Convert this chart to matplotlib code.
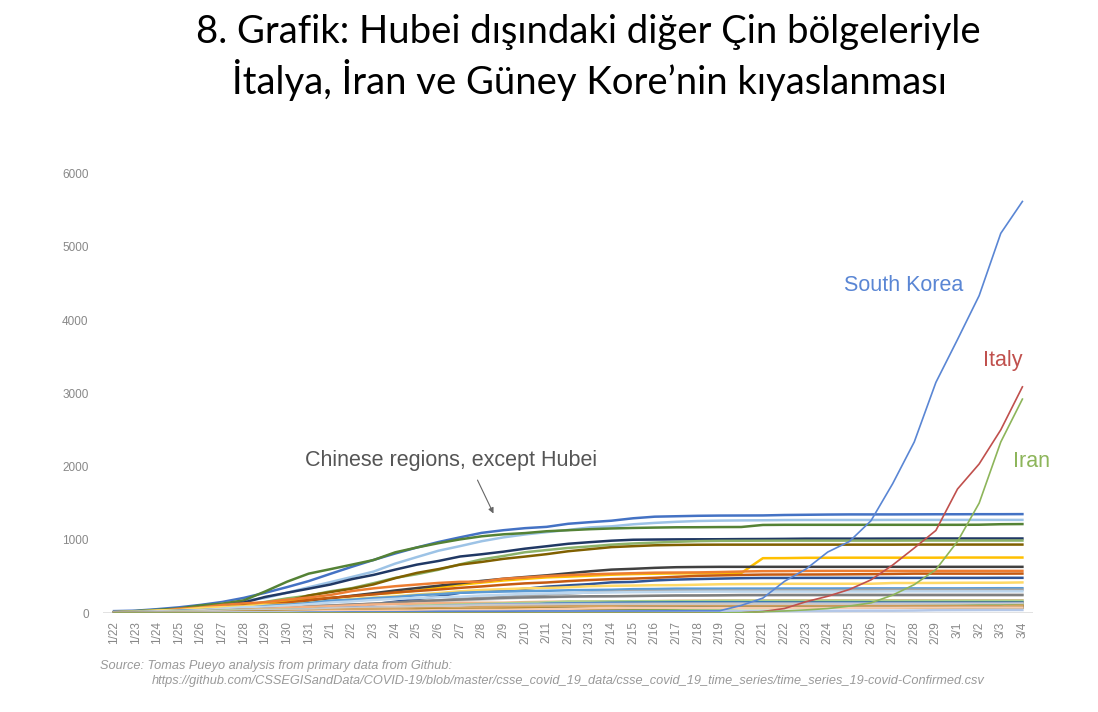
import numpy as np
import matplotlib.pyplot as plt

# dates on the x axis
dates = ['1/22', '1/23', '1/24', '1/25', '1/26', '1/27', '1/28', '1/29', '1/30', '1/31',
         '2/1', '2/2', '2/3', '2/4', '2/5', '2/6', '2/7', '2/8', '2/9', '2/10',
         '2/11', '2/12', '2/13', '2/14', '2/15', '2/16', '2/17', '2/18', '2/19', '2/20',
         '2/21', '2/22', '2/23', '2/24', '2/25', '2/26', '2/27', '2/28', '2/29', '3/1',
         '3/2', '3/3', '3/4']

# countries
south_korea = [1, 1, 2, 2, 3, 4, 4, 4, 4, 11,
               12, 15, 15, 16, 19, 23, 24, 24, 25, 27,
               28, 28, 28, 28, 28, 29, 30, 31, 31, 104,
               204, 433, 602, 833, 977, 1261, 1766, 2337, 3150, 3736,
               4335, 5186, 5621]
italy = [0, 0, 0, 0, 0, 0, 0, 0, 0, 2,
         2, 2, 2, 2, 2, 2, 3, 3, 3, 3,
         3, 3, 3, 3, 3, 3, 3, 3, 3, 3,
         20, 62, 155, 229, 322, 453, 655, 888, 1128, 1694,
         2036, 2502, 3089]
iran = [0, 0, 0, 0, 0, 0, 0, 0, 0, 0,
        0, 0, 0, 0, 0, 0, 0, 0, 0, 0,
        0, 0, 0, 0, 0, 0, 0, 0, 2, 5,
        18, 28, 43, 61, 95, 139, 245, 388, 593, 978,
        1501, 2336, 2922]

# Chinese regions (except Hubei)
guangdong = [26, 32, 53, 78, 111, 151, 207, 277, 354, 436,
             535, 632, 725, 813, 895, 970, 1034, 1095, 1131, 1159,
             1177, 1219, 1241, 1261, 1294, 1316, 1322, 1328, 1331, 1332,
             1333, 1339, 1342, 1345, 1347, 1347, 1347, 1348, 1349, 1349,
             1350, 1350, 1351]
henan = [5, 5, 9, 32, 83, 128, 168, 206, 278, 352,
         422, 493, 566, 675, 764, 851, 914, 981, 1033, 1073,
         1105, 1135, 1169, 1184, 1212, 1231, 1246, 1257, 1262, 1265,
         1267, 1270, 1271, 1271, 1271, 1271, 1272, 1272, 1272, 1272,
         1272, 1272, 1272]
zhejiang = [10, 27, 43, 62, 104, 128, 173, 296, 428, 538,
            599, 661, 724, 829, 895, 954, 1006, 1048, 1075, 1092,
            1117, 1131, 1145, 1155, 1162, 1167, 1171, 1172, 1174, 1175,
            1203, 1205, 1205, 1205, 1205, 1205, 1205, 1205, 1205, 1205,
            1206, 1213, 1215]
hunan = [4, 9, 24, 43, 69, 100, 143, 221, 277, 332,
         389, 463, 521, 593, 661, 711, 772, 803, 838, 879,
         912, 946, 968, 988, 1001, 1004, 1006, 1007, 1008, 1010,
         1011, 1013, 1016, 1016, 1016, 1016, 1017, 1017, 1018, 1018,
         1018, 1018, 1018]
anhui = [1, 9, 15, 39, 60, 70, 106, 152, 200, 237,
         297, 340, 408, 480, 530, 591, 665, 733, 779, 830,
         860, 889, 910, 934, 950, 962, 973, 982, 986, 987,
         988, 989, 989, 989, 989, 989, 989, 990, 990, 990,
         990, 990, 990]
jiangxi = [2, 7, 18, 18, 36, 72, 109, 109, 162, 240,
           286, 333, 391, 476, 548, 600, 661, 698, 740, 771,
           804, 844, 872, 900, 913, 925, 930, 933, 934, 934,
           934, 934, 934, 934, 934, 934, 934, 935, 935, 935,
           935, 935, 935]
shandong = [2, 6, 15, 27, 46, 75, 95, 130, 158, 184,
            206, 230, 259, 275, 307, 347, 386, 416, 444, 466,
            487, 497, 509, 523, 532, 537, 541, 543, 544, 546,
            749, 750, 754, 755, 756, 756, 756, 756, 756, 758,
            758, 758, 758]
jiangsu = [1, 5, 9, 18, 33, 47, 70, 99, 129, 168,
           202, 236, 271, 308, 341, 373, 408, 439, 468, 492,
           515, 543, 570, 593, 604, 617, 626, 629, 631, 631,
           631, 631, 631, 631, 631, 631, 631, 631, 631, 631,
           631, 631, 631]
chongqing = [6, 9, 27, 57, 75, 110, 132, 147, 182, 211,
             247, 300, 337, 366, 389, 411, 426, 428, 468, 486,
             505, 518, 529, 537, 544, 551, 553, 555, 560, 567,
             572, 573, 575, 576, 576, 576, 576, 576, 576, 576,
             576, 576, 576]
sichuan = [5, 8, 15, 28, 44, 69, 90, 108, 142, 177,
           207, 231, 254, 282, 301, 321, 344, 363, 386, 405,
           417, 436, 451, 463, 470, 481, 495, 508, 514, 520,
           525, 526, 526, 527, 529, 531, 534, 538, 538, 538,
           538, 538, 539]
heilongjiang = [0, 2, 4, 9, 15, 21, 33, 38, 44, 59,
                80, 95, 121, 155, 190, 227, 277, 295, 307, 331,
                360, 378, 395, 419, 425, 445, 457, 464, 470, 476,
                479, 479, 480, 480, 480, 480, 480, 480, 480, 480,
                480, 481, 481]
beijing = [14, 22, 36, 41, 68, 80, 91, 111, 114, 139,
           168, 191, 212, 228, 253, 274, 297, 315, 326, 337,
           342, 352, 366, 372, 375, 380, 381, 387, 393, 395,
           396, 399, 399, 399, 400, 400, 410, 410, 411, 413,
           414, 414, 418]
shanghai = [9, 16, 20, 33, 40, 53, 66, 96, 112, 135,
            169, 182, 203, 219, 243, 257, 277, 286, 293, 299,
            303, 311, 315, 318, 326, 328, 333, 333, 333, 334,
            334, 335, 335, 335, 336, 337, 337, 337, 337, 337,
            338, 339, 339]
hebei = [1, 1, 8, 13, 18, 33, 48, 65, 82, 96,
         104, 113, 126, 135, 157, 172, 195, 206, 218, 239,
         251, 265, 283, 291, 300, 301, 306, 306, 307, 308,
         309, 311, 311, 311, 312, 317, 318, 318, 318, 318,
         318, 318, 318]
fujian = [1, 5, 10, 18, 35, 59, 80, 84, 101, 120,
          144, 159, 179, 194, 205, 215, 224, 239, 250, 261,
          267, 272, 279, 281, 285, 287, 290, 292, 293, 293,
          293, 293, 293, 293, 294, 294, 296, 296, 296, 296,
          296, 296, 296]
guangxi = [2, 5, 23, 23, 36, 46, 51, 58, 78, 87,
           100, 111, 127, 139, 150, 168, 172, 183, 195, 210,
           215, 222, 222, 226, 235, 237, 238, 242, 244, 245,
           246, 249, 249, 251, 252, 252, 252, 252, 252, 252,
           252, 252, 252]
shaanxi = [0, 3, 5, 15, 22, 35, 46, 56, 63, 87,
           101, 116, 128, 142, 165, 173, 184, 195, 208, 213,
           219, 225, 229, 230, 232, 236, 240, 240, 242, 245,
           245, 245, 245, 245, 245, 245, 245, 245, 245, 245,
           245, 245, 245]
yunnan = [1, 2, 5, 11, 16, 26, 44, 55, 70, 83,
          93, 105, 117, 122, 128, 135, 138, 140, 141, 149,
          154, 155, 157, 158, 160, 163, 167, 169, 171, 172,
          172, 174, 174, 174, 174, 174, 174, 174, 174, 174,
          174, 174, 174]
hainan = [4, 5, 8, 19, 22, 33, 40, 43, 46, 52,
          62, 64, 72, 80, 99, 106, 117, 124, 131, 138,
          144, 157, 157, 159, 162, 162, 163, 163, 168, 168,
          168, 168, 168, 168, 168, 168, 168, 168, 168, 168,
          168, 168, 168]
guizhou = [1, 3, 3, 4, 5, 7, 9, 9, 12, 29,
           29, 38, 46, 58, 64, 71, 81, 89, 99, 109,
           127, 133, 135, 140, 143, 144, 146, 146, 146, 146,
           146, 146, 146, 146, 146, 146, 146, 146, 146, 146,
           146, 146, 146]
tianjin = [4, 4, 8, 10, 14, 23, 24, 27, 31, 32,
           41, 48, 60, 67, 69, 79, 81, 88, 91, 95,
           106, 112, 119, 120, 122, 124, 125, 128, 130, 131,
           133, 135, 135, 135, 135, 135, 136, 136, 136, 136,
           136, 136, 136]
shanxi = [1, 1, 1, 6, 9, 13, 27, 35, 39, 47,
          66, 74, 81, 81, 90, 96, 104, 115, 119, 122,
          124, 126, 126, 127, 128, 129, 130, 131, 131, 132,
          132, 132, 132, 133, 133, 133, 133, 133, 133, 133,
          133, 133, 133]
liaoning = [2, 3, 4, 17, 21, 27, 34, 39, 41, 48,
            64, 70, 74, 81, 89, 94, 99, 105, 107, 108,
            111, 116, 117, 119, 119, 121, 121, 121, 121, 121,
            121, 121, 121, 121, 121, 121, 121, 121, 121, 121,
            122, 122, 125]
hong_kong = [0, 2, 2, 5, 8, 8, 8, 10, 10, 12,
             13, 15, 15, 17, 21, 24, 25, 26, 36, 42,
             49, 50, 53, 56, 56, 57, 60, 62, 63, 68,
             68, 69, 74, 79, 84, 91, 92, 94, 95, 96,
             100, 100, 105]
jilin = [0, 1, 3, 4, 4, 6, 8, 9, 14, 14,
         17, 23, 31, 42, 54, 59, 65, 69, 78, 80,
         81, 83, 84, 86, 88, 88, 89, 89, 89, 90,
         91, 91, 91, 91, 93, 93, 93, 93, 93, 93,
         93, 93, 93]
gansu = [0, 2, 2, 4, 7, 14, 19, 24, 26, 29,
         40, 51, 55, 57, 62, 62, 67, 79, 83, 83,
         86, 87, 90, 90, 90, 90, 91, 91, 91, 91,
         91, 91, 91, 91, 91, 91, 91, 91, 91, 91,
         91, 91, 102]
xinjiang = [0, 2, 2, 3, 4, 5, 10, 13, 14, 17,
            18, 21, 24, 29, 32, 36, 39, 42, 45, 49,
            55, 59, 63, 65, 70, 71, 71, 75, 76, 76,
            76, 76, 76, 76, 76, 76, 76, 76, 76, 76,
            76, 76, 76]
inner_mongolia = [0, 0, 1, 7, 7, 11, 15, 16, 19, 20,
                  23, 27, 34, 35, 42, 46, 50, 52, 54, 58,
                  58, 60, 61, 65, 68, 70, 72, 73, 75, 75,
                  75, 75, 75, 75, 75, 75, 75, 75, 75, 75,
                  75, 75, 75]
ningxia = [1, 1, 2, 3, 4, 7, 11, 12, 17, 21,
           26, 28, 31, 34, 34, 40, 43, 45, 45, 49,
           53, 58, 64, 67, 70, 70, 70, 70, 71, 71,
           71, 71, 71, 72, 72, 73, 73, 74, 74, 75,
           75, 75, 75]
taiwan = [1, 1, 3, 3, 4, 5, 8, 8, 9, 10,
          10, 10, 10, 11, 11, 16, 16, 17, 18, 18,
          18, 18, 18, 18, 18, 20, 22, 22, 23, 24,
          26, 26, 28, 30, 31, 32, 32, 34, 39, 40,
          41, 42, 42]

regions = [guangdong, henan, zhejiang, hunan, anhui, jiangxi, shandong, jiangsu,
           chongqing, sichuan, heilongjiang, beijing, shanghai, hebei, fujian,
           guangxi, shaanxi, yunnan, hainan, guizhou, tianjin, shanxi, liaoning,
           hong_kong, jilin, gansu, xinjiang, inner_mongolia, ningxia, taiwan]
region_colors = ['#4472C4', '#9DC3E6', '#548235', '#203864', '#8CB369', '#806000',
                 '#FFC000', '#404040', '#ED7D31', '#C55A11', '#2F5597', '#FFD966',
                 '#5B9BD5', '#A5A5A5', '#BDD7EE', '#D0CECE', '#7F7F7F', '#F4B183',
                 '#A9D18E', '#2E75B6', '#BF9000', '#8FAADC', '#C9C9C9', '#70AD47',
                 '#9E480E', '#D6A461', '#255E91', '#997300', '#F8CBAD', '#B4C7E7']

x = np.arange(len(dates))

fig = plt.figure(figsize=(10.98, 7.12), dpi=100)
ax = fig.add_axes([0.094, 0.139, 0.847, 0.617])

ax.axhline(0, color='#dddddd', lw=1.2, zorder=1)
for vals, c in zip(regions, region_colors):
    ax.plot(x, vals, color=c, lw=1.8, zorder=2)

ax.plot(x, south_korea, color='#5A86D4', lw=1.2, zorder=3)
ax.plot(x, italy, color='#C0504D', lw=1.2, zorder=3)
ax.plot(x, iran, color='#8DB55A', lw=1.2, zorder=3)

ax.text(36.5, 4467, 'South Korea', color='#5A86D4', fontsize=15.5,
        family='Liberation Sans', ha='center', va='center')
ax.text(41.1, 3443, 'Italy', color='#C0504D', fontsize=15.5,
        family='Liberation Sans', ha='center', va='center')
ax.text(42.4, 2063, 'Iran', color='#8DB55A', fontsize=15.5,
        family='Liberation Sans', ha='center', va='center')

ax.text(15.6, 2090, 'Chinese regions, except Hubei', color='#555555', fontsize=15.5,
        family='Liberation Sans', ha='center', va='center')
ax.annotate('', xy=(17.6, 1325), xytext=(16.75, 1850),
            arrowprops=dict(arrowstyle='-|>', color='#666666', lw=0.8, mutation_scale=8))

ax.set_xlim(-0.5, 42.5)
ax.set_ylim(0, 6000)
ax.set_yticks([0, 1000, 2000, 3000, 4000, 5000, 6000])
ax.set_xticks(x)
ax.set_xticklabels(dates, rotation=90)
for lab in ax.get_xticklabels() + ax.get_yticklabels():
    lab.set_family('Liberation Sans')
    lab.set_fontsize(8.5)
    lab.set_color('#888888')
ax.tick_params(length=0)
ax.tick_params(axis='y', pad=10.5)
ax.tick_params(axis='x', pad=6)
for s in ax.spines.values():
    s.set_visible(False)

fig.text(0.536, 0.955, '8. Grafik: Hubei dışındaki diğer Çin bölgeleriyle',
         fontsize=27.5, family='Lato', ha='center', va='center', color='#000000')
fig.text(0.537, 0.888, 'İtalya, İran ve Güney Kore’nin kıyaslanması',
         fontsize=27.5, family='Lato', ha='center', va='center', color='#000000')

fig.text(0.091, 0.0604, 'Source: Tomas Pueyo analysis from primary data from Github:',
         fontsize=9.2, family='Liberation Sans', style='italic', color='#999999')
fig.text(0.138, 0.0393, 'https://github.com/CSSEGISandData/COVID-19/blob/master/csse_covid_19_data/'
         'csse_covid_19_time_series/time_series_19-covid-Confirmed.csv',
         fontsize=9.2, family='Liberation Sans', style='italic', color='#999999')

plt.savefig('out.png', dpi=100)
